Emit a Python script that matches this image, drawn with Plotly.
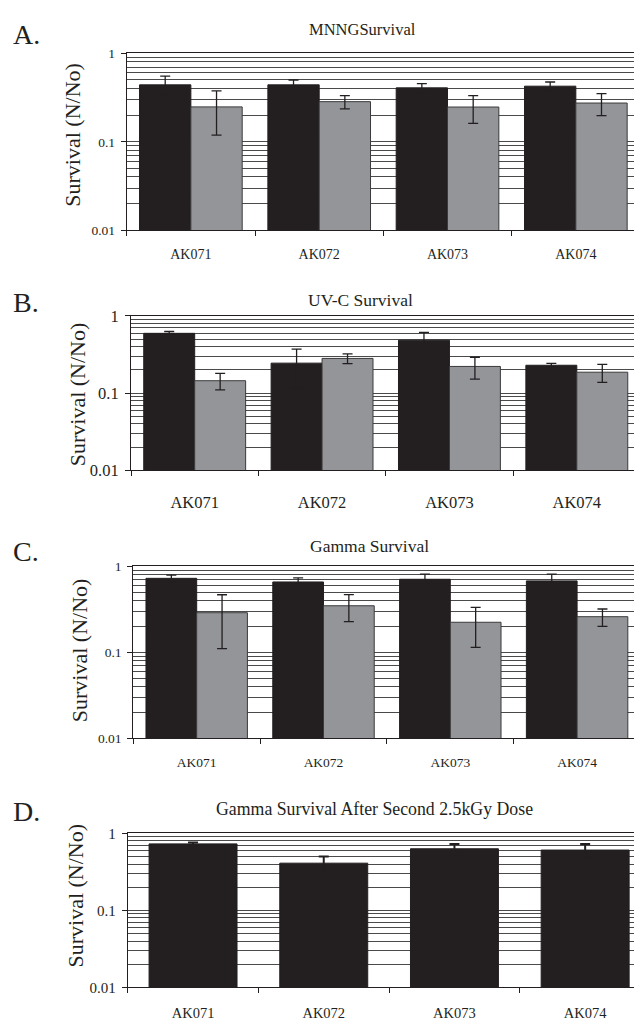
import plotly.graph_objects as go
from plotly.subplots import make_subplots

strains = ["AK071", "AK072", "AK073", "AK074"]

# Panel A: MNNG survival
mnng_black = [0.44, 0.44, 0.407, 0.425]
mnng_black_err = [0.112, 0.059, 0.048, 0.049]
mnng_gray = [0.248, 0.284, 0.247, 0.274]
mnng_gray_err = [0.129, 0.048, 0.086, 0.077]

# Panel B: UV-C survival
uvc_black = [0.596, 0.245, 0.485, 0.230]
uvc_black_err = [0.034, 0.128, 0.129, 0.013]
uvc_gray = [0.145, 0.282, 0.222, 0.187]
uvc_gray_err = [0.035, 0.040, 0.070, 0.049]

# Panel C: Gamma survival
gam_black = [0.723, 0.656, 0.705, 0.675]
gam_black_err = [0.066, 0.074, 0.106, 0.136]
gam_gray = [0.288, 0.347, 0.223, 0.259]
gam_gray_err = [0.178, 0.120, 0.109, 0.059]

# Panel D: Gamma survival after second 2.5 kGy dose
gam2_black = [0.731, 0.411, 0.632, 0.608]
gam2_black_err = [0.031, 0.089, 0.099, 0.123]

titles = ["MNNGSurvival", "UV-C Survival", "Gamma Survival",
          "Gamma Survival After Second 2.5kGy Dose"]
letters = ["A.", "B.", "C.", "D."]
ytitle = "Survival (N/No)"
ytick_vals = [0.01, 0.1, 1]
ytick_text = ["0.01", "0.1", "1"]
minor_vals = [m * 10.0 ** e for e in (-2, -1) for m in range(2, 10)]

# page is 642x1030; the html body adds an 8px margin around the figure
OFF = 8
W, H = 642 - OFF, 1030 - 2 * OFF
BLACK = "#231f20"
GRAY = "#939598"
FONT = "Liberation Serif, Times New Roman, serif"


def px(x):
    return (x - OFF) / W


def py(y):
    return 1 - (y - OFF) / H


fig = make_subplots(rows=4, cols=1)

# page-pixel layout of each panel: x0, x1, ytop, ybottom
panels = [
    (126.7, 640.0, 45.0, 225.3),
    (131.0, 640.5, 312.7, 470.0),
    (133.3, 640.5, 567.7, 743.0),
    (127.7, 642.0, 840.0, 997.0),
]
xlab_size = [14, 16.5, 13.5, 14.5]
ytick_size = [13.5, 16.5, 13.5, 15]
standoff = [11, 17, 12, 12]


def err(arr):
    return dict(type="data", array=arr, color=BLACK, thickness=1.3, width=5)


series = [
    (mnng_black, mnng_black_err, mnng_gray, mnng_gray_err),
    (uvc_black, uvc_black_err, uvc_gray, uvc_gray_err),
    (gam_black, gam_black_err, gam_gray, gam_gray_err),
]
for i, (b, be, g, ge) in enumerate(series):
    fig.add_trace(go.Bar(x=strains, y=b, error_y=err(be), marker_color=BLACK,
                         marker_line=dict(color=BLACK, width=1), showlegend=False),
                  row=i + 1, col=1)
    fig.add_trace(go.Bar(x=strains, y=g, error_y=err(ge), marker_color=GRAY,
                         marker_line=dict(color="#3a3a3a", width=1), showlegend=False),
                  row=i + 1, col=1)
fig.add_trace(go.Bar(x=strains, y=gam2_black,
                     error_y=dict(type="data", array=gam2_black_err,
                                  color=BLACK, thickness=2, width=5),
                     marker_color=BLACK, width=0.673,
                     marker_line=dict(color=BLACK, width=1), showlegend=False),
              row=4, col=1)

for i, (x0, x1, yt, yb) in enumerate(panels):
    r = i + 1
    xr = [-0.5, 3.5]
    if i == 3:
        cat_w = 130.7
        xr = [-0.5, -0.5 + (x1 - x0) / cat_w]
    fig.update_xaxes(row=r, col=1, domain=[px(x0), min(px(x1), 1.0)], range=xr,
                     showline=True, linecolor=BLACK, linewidth=1,
                     mirror=True, ticks="outside", tickson="boundaries",
                     ticklen=5, tickcolor=BLACK, showgrid=False,
                     ticklabelstandoff=standoff[i],
                     tickfont=dict(family=FONT, size=xlab_size[i], color=BLACK))
    fig.update_yaxes(row=r, col=1, domain=[py(yb), py(yt)],
                     type="log", range=[-2, 0], tickmode="array",
                     tickvals=ytick_vals, ticktext=ytick_text,
                     showline=True, linecolor=BLACK, linewidth=1,
                     mirror=(i != 3), ticks="outside", ticklen=5, tickcolor=BLACK,
                     ticklabelstandoff=3,
                     showgrid=True, gridcolor="#4a4a4a", gridwidth=1,
                     minor=dict(tickmode="array", tickvals=minor_vals, showgrid=True,
                                gridcolor="#4a4a4a", gridwidth=1, ticks=""),
                     zeroline=False,
                     tickfont=dict(family=FONT, size=ytick_size[i], color=BLACK))

annots = []
letter_y = [26, 299, 552.5, 817.5]
title_pos = [(362, 21), (360, 296.7), (369, 547.5), (375, 815)]
title_size = [16.5, 17.5, 17.5, 17.8]
ytitle_pos = [(72.5, 128.5), (77.5, 393), (79, 653.3), (76, 903.3)]
for i in range(4):
    annots.append(dict(text=letters[i], x=px(11), y=py(letter_y[i]),
                       xref="paper", yref="paper", xanchor="left", yanchor="middle",
                       showarrow=False, font=dict(family=FONT, size=28, color=BLACK)))
    tx, ty = title_pos[i]
    annots.append(dict(text=titles[i], x=px(tx), y=py(ty),
                       xref="paper", yref="paper", xanchor="center", yanchor="middle",
                       showarrow=False,
                       font=dict(family=FONT, size=title_size[i], color=BLACK)))
    yx, yy = ytitle_pos[i]
    annots.append(dict(text=ytitle, x=px(yx), y=py(yy), textangle=-90,
                       xref="paper", yref="paper", xanchor="center", yanchor="middle",
                       showarrow=False, font=dict(family=FONT, size=22, color=BLACK)))

fig.update_layout(width=W, height=H, margin=dict(l=0, r=0, t=0, b=0),
                  paper_bgcolor="white", plot_bgcolor="white",
                  barmode="group", bargap=0.2, bargroupgap=0,
                  annotations=annots, showlegend=False)

fig.write_html("out.html")
